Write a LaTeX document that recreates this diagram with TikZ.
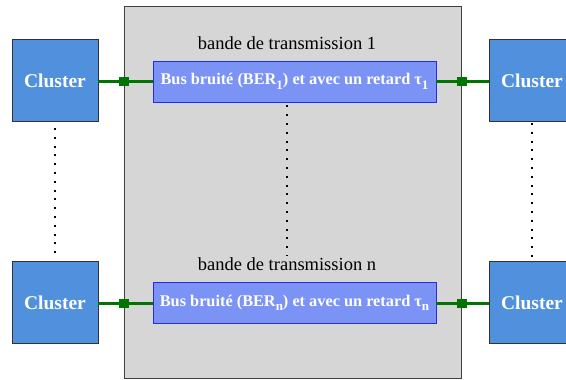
\documentclass[tikz,border=0pt]{standalone}
\usepackage{fontspec}
\setmainfont{Liberation Serif}
\definecolor{panelgray}{RGB}{214,214,214}
\definecolor{clusterblue}{RGB}{80,144,221}
\definecolor{busfill}{RGB}{123,147,245}
\definecolor{busedge}{RGB}{40,40,240}
\definecolor{linkgreen}{RGB}{0,118,0}
\newcommand{\sbx}[1]{\raisebox{-0.28em}{\fontsize{13}{13}\selectfont #1}}
\tikzset{
  panelbox/.style={draw=black!75, line width=1pt, fill=panelgray, inner sep=0pt, minimum width=337pt, minimum height=372pt},
  clusterbox/.style={draw=black!80, line width=0.8pt, fill=clusterblue, inner sep=0pt, minimum width=86pt, minimum height=82pt,
    text=white, font=\fontsize{19.5}{20}\selectfont\bfseries},
  busbox/.style={draw=busedge, line width=0.8pt, fill=busfill, inner sep=0pt, minimum width=283pt, minimum height=41pt,
    text=white, font=\fontsize{16.3}{17}\selectfont\bfseries},
  bandlabel/.style={inner sep=0pt, font=\fontsize{18.5}{19}\selectfont},
  link/.style={draw=linkgreen, line width=3pt},
  junction/.style={fill=linkgreen, inner sep=0pt, minimum width=10pt, minimum height=9pt},
  dotline/.style={line width=2pt, dash pattern=on 2pt off 6.8pt, black},
}
\begin{document}
\begin{tikzpicture}[x=1pt,y=-1pt]
\useasboundingbox (0,0) rectangle (566,380);
\begin{scope}
\clip (0,0) rectangle (566,380);
\node[panelbox] (panel) at (292.5,192) {};
\node[clusterbox] (cl1) at (55,80.5) {Cluster};
\node[clusterbox] (cl3) at (55,302.5) {Cluster};
\node[clusterbox] (cr1) at (532,80.5) {Cluster};
\node[clusterbox] (cr3) at (532,302.5) {Cluster};
\node[busbox] (bus1) at (294.5,81.5) {Bus bruité (BER\sbx{1}) et avec un retard τ\sbx{1}};
\node[busbox] (busn) at (294.5,303) {Bus bruité (BER\sbx{n}) et avec un retard τ\sbx{n}};
\node[bandlabel] (lab1) at (287,43) {bande de transmission 1};
\node[bandlabel] (labn) at (287,264) {bande de transmission n};
% links
\draw[link] (cl1.east |- bus1) -- (bus1.west);
\draw[link] (bus1.east) -- (cr1.west |- bus1);
\draw[link] (cl3.east |- busn) -- (busn.west);
\draw[link] (busn.east) -- (cr3.west |- busn);
\node[junction] (j1) at (panel.west |- bus1) {};
\node[junction] (j2) at (panel.east |- bus1) {};
\node[junction] (j3) at (panel.west |- busn) {};
\node[junction] (j4) at (panel.east |- busn) {};
% dotted lines
\draw[dotline] ([yshift=-6pt]cl1.south) -- ([yshift=7pt]cl3.north);
\draw[dotline] ([yshift=-1pt]cr1.south) -- ([yshift=4pt]cr3.north);
\draw[dotline] ([xshift=-7.5pt,yshift=-3pt]bus1.south) -- ([xshift=-7.5pt,yshift=26pt]busn.north);
\end{scope}
\end{tikzpicture}
\end{document}
